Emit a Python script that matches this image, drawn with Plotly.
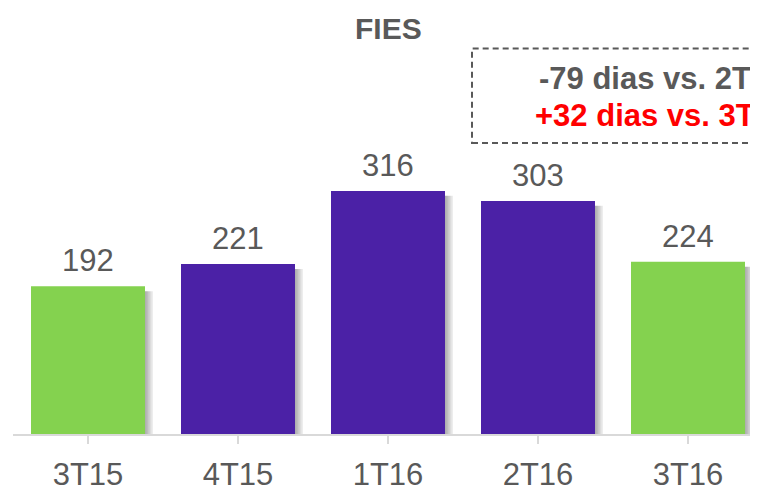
import plotly.graph_objects as go

categories = ["3T15", "4T15", "1T16", "2T16", "3T16"]
values = [192, 221, 316, 303, 224]
bar_colors = ["#84D24F", "#4B21A6", "#4B21A6", "#4B21A6", "#84D24F"]
title_text = "FIES"
box_line1 = "-79 dias vs. 2T16"
box_line2 = "+32 dias vs. 3T15"

FONT = "Liberation Sans, Arial, sans-serif"
GRAY = "#595959"
PX_X = 1 / 150.0          # data units per pixel (x)
PX_Y = 1 / 0.78           # data units per pixel (y)
BAR_W = 0.76
BODY = 8                  # default page body margin
idx = list(range(len(categories)))

fig = go.Figure()

# soft shadows (right/bottom) behind bars
for k in range(1, 6):
    fig.add_trace(go.Bar(
        x=idx, y=[v - 3 * PX_Y for v in values],
        base=[-2 * PX_Y] * len(values),
        width=[BAR_W] * len(values),
        offset=[-BAR_W / 2 + k * 1.6 * PX_X] * len(values),
        marker=dict(color="rgba(0,0,0,0.07)", line=dict(width=0)),
        hoverinfo="skip", showlegend=False,
    ))

fig.add_trace(go.Bar(
    x=idx, y=values,
    width=[BAR_W] * len(values),
    offset=[-BAR_W / 2] * len(values),
    marker=dict(color=bar_colors, line=dict(width=0)),
    showlegend=False,
))

annotations = []
for i, v in zip(idx, values):
    annotations.append(dict(
        x=i, y=v, xref="x", yref="y", text=str(v), showarrow=False,
        yanchor="bottom", yshift=6,
        font=dict(family=FONT, size=31, color=GRAY),
    ))

annotations.append(dict(
    x=2, y=(440 - 29) * PX_Y, xref="x", yref="y", text="<b>" + title_text + "</b>",
    showarrow=False, xanchor="center", yanchor="middle",
    font=dict(family=FONT, size=30, color=GRAY),
))
annotations.append(dict(
    x=-0.5 + (537 - 13) * PX_X, y=(440 - 79) * PX_Y, xref="x", yref="y",
    text="<b>" + box_line1 + "</b>", showarrow=False, xanchor="left", yanchor="middle",
    font=dict(family=FONT, size=31, color=GRAY),
))
annotations.append(dict(
    x=-0.5 + (533 - 13) * PX_X, y=(440 - 117) * PX_Y, xref="x", yref="y",
    text="<b>" + box_line2 + "</b>", showarrow=False, xanchor="left", yanchor="middle",
    font=dict(family=FONT, size=31, color="#FF0000"),
))

fig.add_shape(
    type="rect", xref="x", yref="y",
    x0=-0.5 + (472 - 13) * PX_X, x1=5.5,
    y0=(440 - 145) * PX_Y, y1=(440 - 49) * PX_Y,
    line=dict(color=GRAY, width=2, dash="6px,4px"),
    fillcolor="rgba(0,0,0,0)",
)

fig.update_layout(
    width=758 - BODY, height=492 - BODY,
    margin=dict(l=13 - BODY, r=0, t=0, b=52),
    paper_bgcolor="white", plot_bgcolor="white",
    barmode="overlay",
    annotations=annotations,
    xaxis=dict(
        range=[-0.5, -0.5 + 745 * PX_X],
        tickmode="array", tickvals=idx, ticktext=categories,
        tickson="boundaries", ticks="outside", ticklen=8, tickwidth=1.5,
        tickcolor="#d9d9d9", showline=True, linecolor="#d9d9d9", linewidth=1.5,
        showgrid=False, zeroline=False, ticklabelstandoff=4,
        tickfont=dict(family=FONT, size=31, color=GRAY),
    ),
    yaxis=dict(range=[0, (440 - BODY) * PX_Y], visible=False, showgrid=False, zeroline=False),
)

fig.write_html("out.html")
